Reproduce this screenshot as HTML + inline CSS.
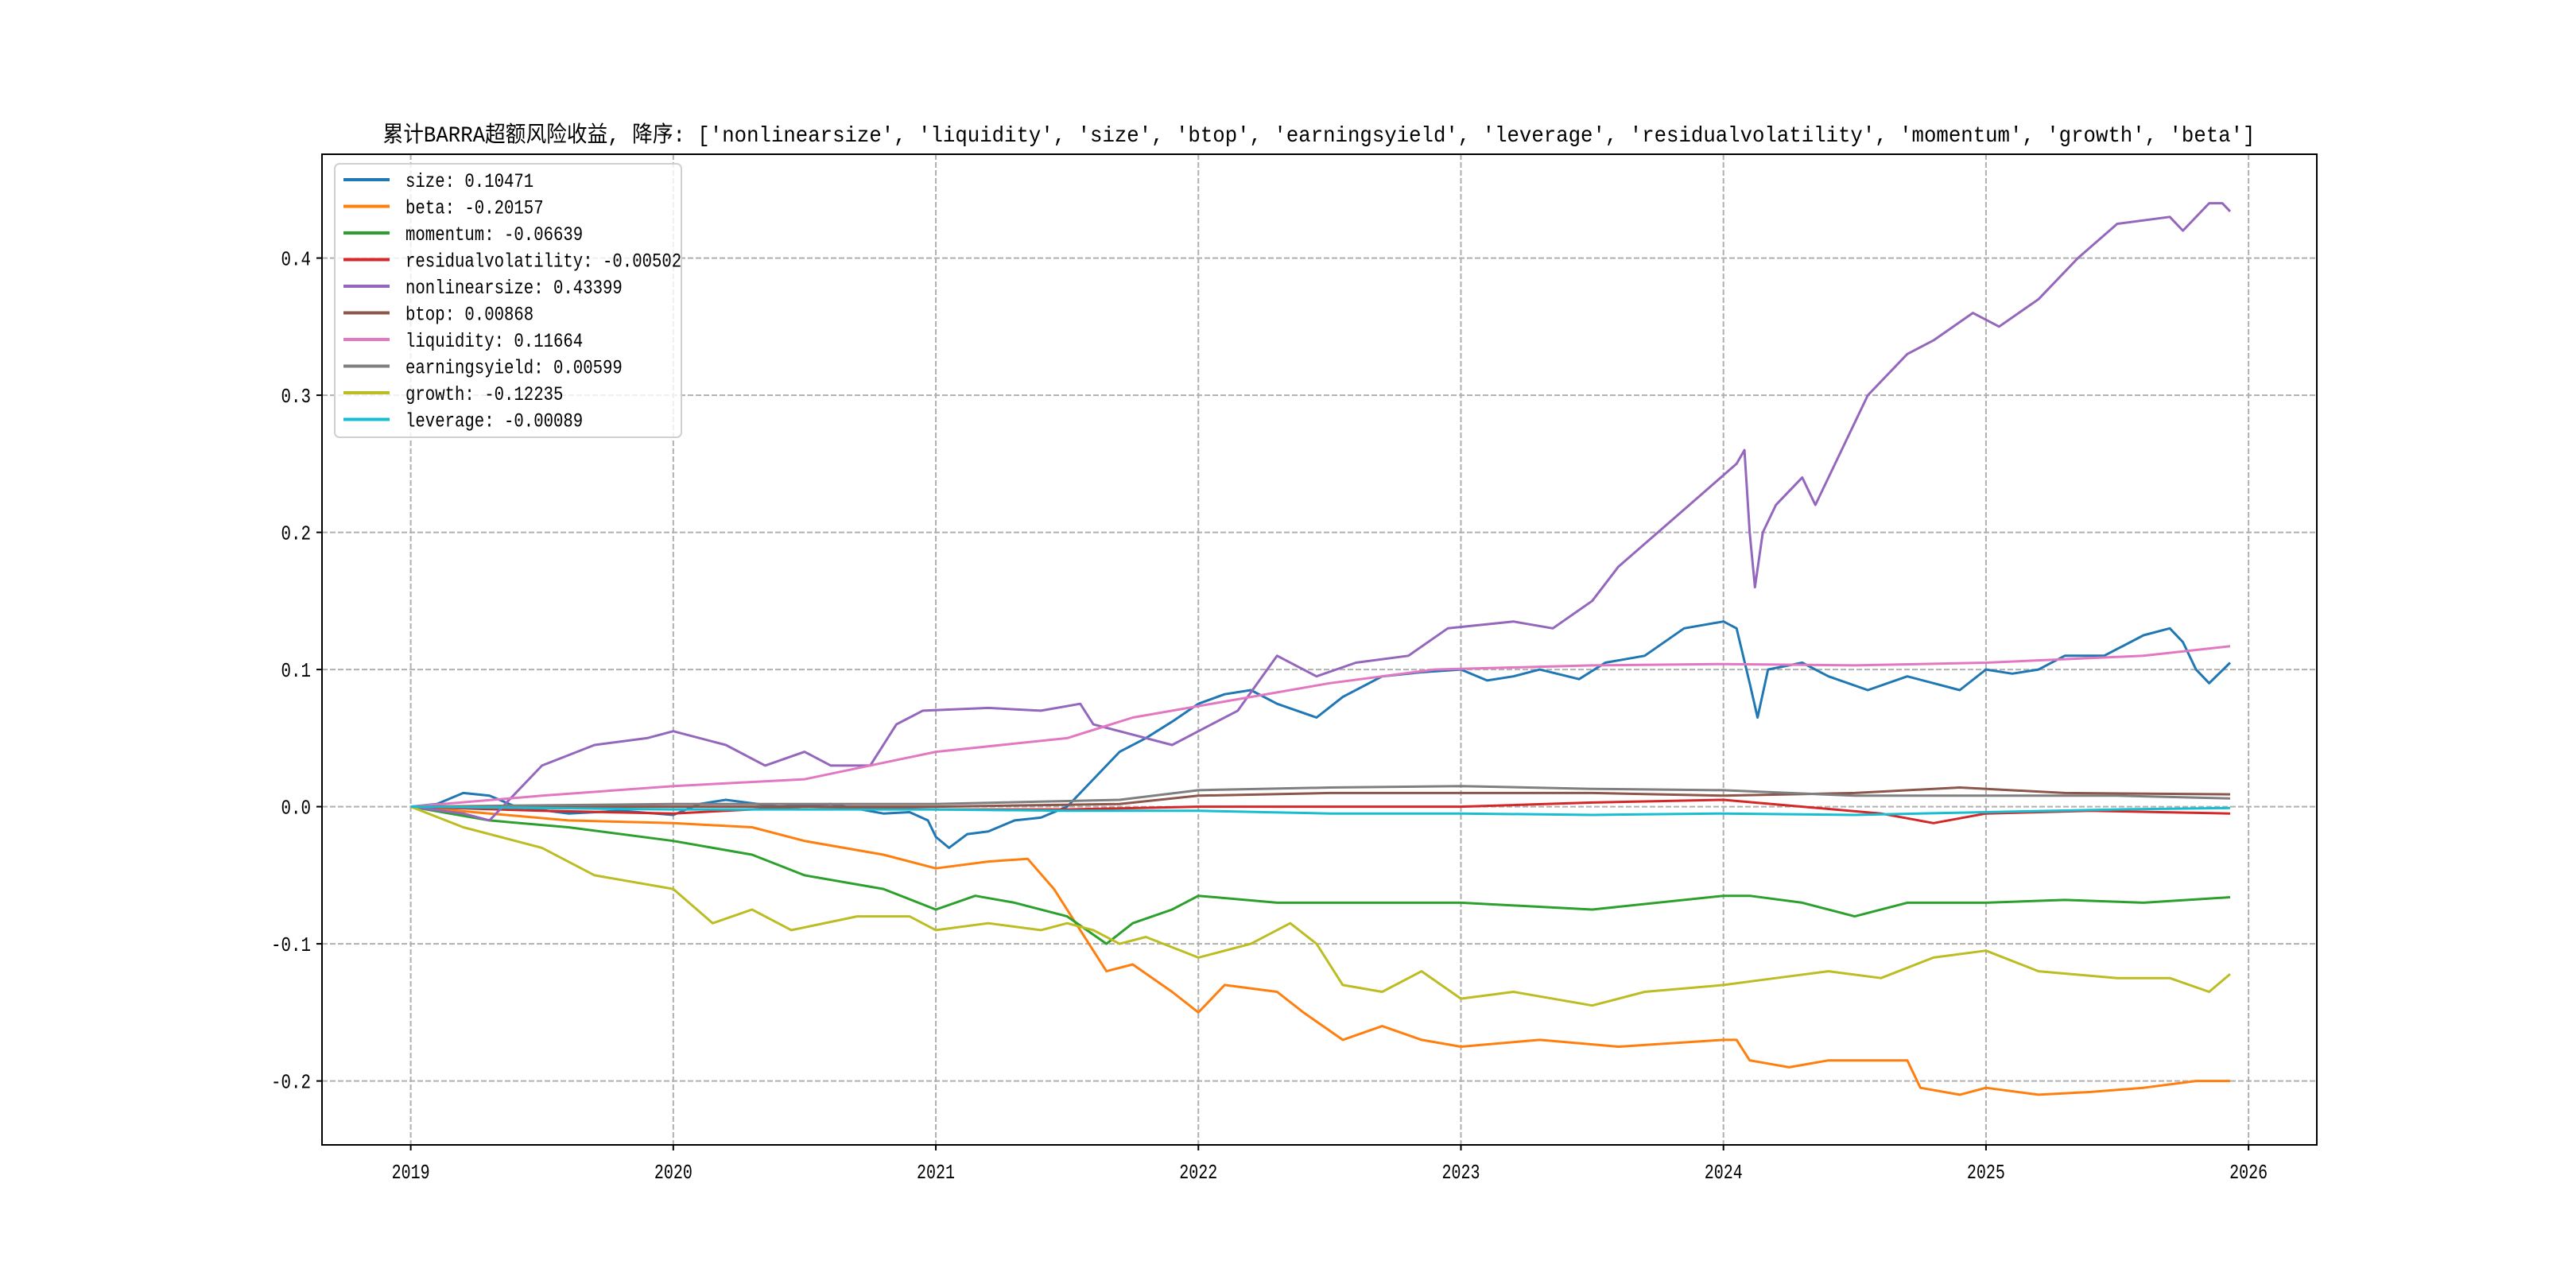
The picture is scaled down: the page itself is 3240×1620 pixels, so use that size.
<!DOCTYPE html>
<html><head><meta charset="utf-8"><style>
html,body{margin:0;padding:0;background:#fff;}
svg{display:block;}
</style></head><body>
<svg id="chart" width="3240" height="1620" viewBox="0 0 3240 1620" xmlns="http://www.w3.org/2000/svg">
<rect width="3240" height="1620" fill="#fff"/>
<g id="grid"></g>
<g id="series"></g>
<rect x="405" y="194" width="2509" height="1246" fill="none" stroke="#000" stroke-width="2"/>
<g id="ticks"></g>
<text x="1659" y="178" text-anchor="middle" font-family="'Liberation Mono','Noto Sans CJK SC',monospace" font-size="28" textLength="2355" lengthAdjust="spacingAndGlyphs">累计BARRA超额风险收益,  降序: ['nonlinearsize', 'liquidity', 'size', 'btop', 'earningsyield', 'leverage', 'residualvolatility', 'momentum', 'growth', 'beta']</text>
<g id="legend"></g>
</svg>
<script>
const xTicks=[2019,2020,2021,2022,2023,2024,2025,2026];
const yTicks=[-0.2,-0.1,0.0,0.1,0.2,0.3,0.4];
const yTickLabels=['-0.2','-0.1','0.0','0.1','0.2','0.3','0.4'];
const seriesNames=['size','beta','momentum','residualvolatility','nonlinearsize','btop','liquidity','earningsyield','growth','leverage'];
const seriesColors=['#1f77b4','#ff7f0e','#2ca02c','#d62728','#9467bd','#8c564b','#e377c2','#7f7f7f','#bcbd22','#17becf'];
const finalValues=['0.10471','-0.20157','-0.06639','-0.00502','0.43399','0.00868','0.11664','0.00599','-0.12235','-0.00089'];
const sizeT=[2019,2019.1,2019.2,2019.3,2019.4,2019.6,2019.8,2020,2020.1,2020.2,2020.4,2020.6,2020.8,2020.9,2020.97,2021.0,2021.05,2021.12,2021.2,2021.3,2021.4,2021.5,2021.6,2021.7,2021.8,2021.9,2022.0,2022.1,2022.2,2022.3,2022.45,2022.55,2022.7,2022.85,2023.0,2023.1,2023.2,2023.3,2023.45,2023.55,2023.7,2023.85,2024.0,2024.05,2024.1,2024.13,2024.17,2024.3,2024.4,2024.55,2024.7,2024.8,2024.9,2025.0,2025.1,2025.2,2025.3,2025.45,2025.6,2025.7,2025.75,2025.8,2025.85,2025.93];
const sizeV=[0,0.002,0.01,0.008,0,-0.005,-0.003,-0.006,0.002,0.005,0,0.002,-0.005,-0.004,-0.01,-0.022,-0.03,-0.02,-0.018,-0.01,-0.008,0,0.02,0.04,0.05,0.062,0.075,0.082,0.085,0.075,0.065,0.08,0.095,0.098,0.1,0.092,0.095,0.1,0.093,0.105,0.11,0.13,0.135,0.13,0.09,0.065,0.1,0.105,0.095,0.085,0.095,0.09,0.085,0.1,0.097,0.1,0.11,0.11,0.125,0.13,0.12,0.1,0.09,0.105];
const betaT=[2019,2019.3,2019.6,2020,2020.3,2020.5,2020.8,2021.0,2021.2,2021.35,2021.45,2021.55,2021.65,2021.75,2021.9,2022.0,2022.1,2022.3,2022.4,2022.55,2022.7,2022.85,2023.0,2023.3,2023.6,2024.0,2024.05,2024.1,2024.25,2024.4,2024.7,2024.75,2024.9,2025.0,2025.2,2025.4,2025.6,2025.8,2025.93];
const betaV=[0,-0.005,-0.01,-0.012,-0.015,-0.025,-0.035,-0.045,-0.04,-0.038,-0.06,-0.09,-0.12,-0.115,-0.135,-0.15,-0.13,-0.135,-0.15,-0.17,-0.16,-0.17,-0.175,-0.17,-0.175,-0.17,-0.17,-0.185,-0.19,-0.185,-0.185,-0.205,-0.21,-0.205,-0.21,-0.208,-0.205,-0.2,-0.2];
const momT=[2019,2019.3,2019.6,2020,2020.3,2020.5,2020.8,2021.0,2021.15,2021.3,2021.5,2021.65,2021.75,2021.9,2022.0,2022.3,2022.6,2023.0,2023.5,2024.0,2024.1,2024.3,2024.5,2024.7,2025.0,2025.3,2025.6,2025.93];
const momV=[0,-0.01,-0.015,-0.025,-0.035,-0.05,-0.06,-0.075,-0.065,-0.07,-0.08,-0.1,-0.085,-0.075,-0.065,-0.07,-0.07,-0.07,-0.075,-0.065,-0.065,-0.07,-0.08,-0.07,-0.07,-0.068,-0.07,-0.066];
const resT=[2019,2019.5,2020,2020.5,2021,2021.5,2022,2022.5,2023,2023.5,2024,2024.3,2024.6,2024.8,2025,2025.4,2025.93];
const resV=[0,-0.003,-0.005,0,-0.002,-0.002,0,0,0,0.003,0.005,0.0,-0.005,-0.012,-0.005,-0.003,-0.005];
const nlsT=[2019,2019.2,2019.3,2019.5,2019.7,2019.9,2020.0,2020.2,2020.35,2020.5,2020.6,2020.75,2020.85,2020.95,2021.2,2021.4,2021.55,2021.6,2021.7,2021.9,2022.0,2022.15,2022.3,2022.45,2022.6,2022.8,2022.95,2023.2,2023.35,2023.5,2023.6,2023.75,2023.9,2024.05,2024.08,2024.1,2024.12,2024.15,2024.2,2024.3,2024.35,2024.45,2024.55,2024.7,2024.8,2024.95,2025.05,2025.2,2025.35,2025.5,2025.7,2025.75,2025.85,2025.9,2025.93];
const nlsV=[0,-0.005,-0.01,0.03,0.045,0.05,0.055,0.045,0.03,0.04,0.03,0.03,0.06,0.07,0.072,0.07,0.075,0.06,0.055,0.045,0.055,0.07,0.11,0.095,0.105,0.11,0.13,0.135,0.13,0.15,0.175,0.2,0.225,0.25,0.26,0.2,0.16,0.2,0.22,0.24,0.22,0.26,0.3,0.33,0.34,0.36,0.35,0.37,0.4,0.425,0.43,0.42,0.44,0.44,0.434];
const btopT=[2019,2020,2021,2021.7,2022,2022.5,2023,2023.5,2024,2024.5,2024.9,2025.3,2025.93];
const btopV=[0,0,0,0.002,0.008,0.01,0.01,0.01,0.008,0.01,0.014,0.01,0.009];
const liqT=[2019,2019.5,2020,2020.5,2021,2021.5,2021.75,2022.2,2022.5,2022.9,2023.5,2024,2024.5,2025,2025.6,2025.93];
const liqV=[0,0.008,0.015,0.02,0.04,0.05,0.065,0.08,0.09,0.1,0.103,0.104,0.103,0.105,0.11,0.117];
const eyT=[2019,2020,2021,2021.7,2022,2022.5,2023,2023.5,2024,2024.5,2025,2025.5,2025.93];
const eyV=[0,0.002,0.002,0.005,0.012,0.014,0.015,0.013,0.012,0.008,0.008,0.008,0.006];
const groT=[2019,2019.2,2019.5,2019.7,2020.0,2020.15,2020.3,2020.45,2020.7,2020.9,2021.0,2021.2,2021.4,2021.5,2021.6,2021.7,2021.8,2022.0,2022.2,2022.35,2022.45,2022.55,2022.7,2022.85,2023.0,2023.2,2023.5,2023.7,2024.0,2024.2,2024.4,2024.6,2024.8,2025.0,2025.2,2025.5,2025.7,2025.85,2025.93];
const groV=[0,-0.015,-0.03,-0.05,-0.06,-0.085,-0.075,-0.09,-0.08,-0.08,-0.09,-0.085,-0.09,-0.085,-0.09,-0.1,-0.095,-0.11,-0.1,-0.085,-0.1,-0.13,-0.135,-0.12,-0.14,-0.135,-0.145,-0.135,-0.13,-0.125,-0.12,-0.125,-0.11,-0.105,-0.12,-0.125,-0.125,-0.135,-0.122];
const levT=[2019,2020,2021,2021.5,2022,2022.5,2023,2023.5,2024,2024.5,2025,2025.5,2025.93];
const levV=[0,-0.002,-0.002,-0.003,-0.003,-0.005,-0.005,-0.006,-0.005,-0.006,-0.004,-0.002,-0.001];

const SERIES_T=[sizeT,betaT,momT,resT,nlsT,btopT,liqT,eyT,groT,levT];
const SERIES_V=[sizeV,betaV,momV,resV,nlsV,btopV,liqV,eyV,groV,levV];
const L=405,R=2914,T=194,B=1440;
const X0=2018.662,X1=2026.26,Y0=-0.2466,Y1=0.4757;
const sx=v=>L+(v-X0)/(X1-X0)*(R-L);
const sy=v=>B-(v-Y0)/(Y1-Y0)*(B-T);
const NS='http://www.w3.org/2000/svg';
function mk(tag,attrs,parent){const e=document.createElementNS(NS,tag);for(const k in attrs)e.setAttribute(k,attrs[k]);parent.appendChild(e);return e;}
const grid=document.getElementById('grid'),ticks=document.getElementById('ticks'),ser=document.getElementById('series'),leg=document.getElementById('legend');
const FONT="'Liberation Mono','Noto Sans CJK SC',monospace";
xTicks.forEach(t=>{const x=sx(t);
 const g=mk('line',{x1:x,x2:x,y1:T,y2:B,stroke:'#b0b0b0','stroke-width':2,'stroke-dasharray':'7,3'},grid);
 
 
 const tk=mk('line',{x1:x,x2:x,y1:B,y2:B+7,stroke:'#000','stroke-width':2},ticks);
 
 
 const tx=mk('text',{x:x,y:B+42,'text-anchor':'middle','font-family':FONT,'font-size':26,textLength:48,lengthAdjust:'spacingAndGlyphs'},ticks);
 tx.textContent=String(t);
 
 
});
yTicks.forEach((t,i)=>{const y=sy(t);
 const g=mk('line',{x1:L,x2:R,y1:y,y2:y,stroke:'#b0b0b0','stroke-width':2,'stroke-dasharray':'7,3'},grid);
 
 
 const tk=mk('line',{x1:L-7,x2:L,y1:y,y2:y,stroke:'#000','stroke-width':2},ticks);
 
 
 const lab=yTickLabels[i];
 const tx=mk('text',{x:L-14,y:y+9,'text-anchor':'end','font-family':FONT,'font-size':26,textLength:lab.length*12.5,lengthAdjust:'spacingAndGlyphs'},ticks);
 tx.textContent=lab;
 
 
});
seriesNames.forEach((n,i)=>{
 const pts=SERIES_T[i].map((t,j)=>sx(t).toFixed(1)+','+sy(SERIES_V[i][j]).toFixed(1)).join(' ');
 const p=mk('polyline',{points:pts,fill:'none',stroke:seriesColors[i],'stroke-width':3,'stroke-linejoin':'round'},ser);
 
 
});
const lb=mk('rect',{x:421,y:206,width:436,height:344,rx:6,fill:'#fff','fill-opacity':0.8,stroke:'#d0d0d0','stroke-width':2},leg);


seriesNames.forEach((n,i)=>{const y=226+i*33.5;
 const ln=mk('line',{x1:432,x2:490,y1:y,y2:y,stroke:seriesColors[i],'stroke-width':4},leg);
 
 
 const s=n+': '+finalValues[i];
 const tx=mk('text',{x:510,y:y+9,'font-family':FONT,'font-size':25,textLength:s.length*12.4,lengthAdjust:'spacingAndGlyphs'},leg);
 tx.textContent=s;
 
 
});
</script>
</body></html>
